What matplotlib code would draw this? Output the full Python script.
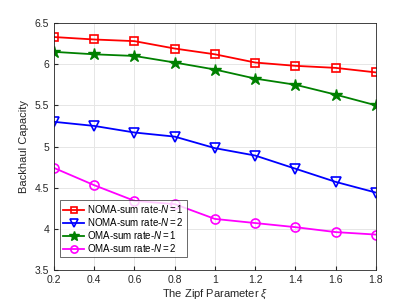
import numpy as np
import matplotlib
matplotlib.use("Agg")
import matplotlib.pyplot as plt

plt.rcParams['font.family'] = ['Liberation Sans', 'DejaVu Sans']
plt.rcParams['mathtext.fontset'] = 'custom'
plt.rcParams['mathtext.it'] = 'Liberation Sans:italic'
plt.rcParams['mathtext.rm'] = 'Liberation Sans'

# data
xi = [0.2, 0.4, 0.6, 0.8, 1.0, 1.2, 1.4, 1.6, 1.8]
noma_n1 = [6.33, 6.30, 6.28, 6.19, 6.12, 6.02, 5.98, 5.955, 5.90]
noma_n2 = [5.30, 5.25, 5.17, 5.12, 4.98, 4.89, 4.73, 4.57, 4.44]
oma_n1 = [6.15, 6.12, 6.10, 6.02, 5.935, 5.825, 5.75, 5.63, 5.50]
oma_n2 = [4.74, 4.53, 4.34, 4.30, 4.12, 4.07, 4.02, 3.96, 3.93]

fig = plt.figure(figsize=(4.15, 3.03), dpi=100)
ax = fig.add_axes([0.130, 0.109, 0.776, 0.815])

ax.plot(xi, noma_n1, color='red', marker='s', markersize=6, markerfacecolor='none',
        markeredgewidth=1.2, linewidth=1.3, label=r'NOMA-sum rate-$\mathit{N{=}1}$')
ax.plot(xi, noma_n2, color='blue', marker='v', markersize=7, markerfacecolor='none',
        markeredgewidth=1.2, linewidth=1.3, label=r'NOMA-sum rate-$\mathit{N{=}2}$')
ax.plot(xi, oma_n1, color='green', marker='*', markersize=9,
        linewidth=1.3, label=r'OMA-sum rate-$\mathit{N{=}1}$')
ax.plot(xi, oma_n2, color='magenta', marker='o', markersize=6.5, markerfacecolor='none',
        markeredgewidth=1.2, linewidth=1.3, label=r'OMA-sum rate-$\mathit{N{=}2}$')

ax.set_xlim(0.2, 1.8)
ax.set_ylim(3.5, 6.5)
ax.set_xticks(xi)
ax.set_xticklabels(['0.2', '0.4', '0.6', '0.8', '1', '1.2', '1.4', '1.6', '1.8'])
ax.set_yticks([3.5, 4, 4.5, 5, 5.5, 6, 6.5])
ax.set_yticklabels(['3.5', '4', '4.5', '5', '5.5', '6', '6.5'])
ax.tick_params(labelsize=7.5, direction='in', length=3, color='#262626', labelcolor='#262626')
ax.grid(True, color='#e6e6e6', linewidth=0.7)
for s in ax.spines.values():
    s.set_color('#262626')
    s.set_linewidth(0.6)

ax.set_xlabel(r'The Zipf Parameter $\xi$', fontsize=8, color='#262626', labelpad=2)
ax.set_ylabel('Backhaul Capacity', fontsize=8, color='#262626', labelpad=4)

leg = ax.legend(loc='lower left', fontsize=7, frameon=True, fancybox=False,
                edgecolor='#262626', borderpad=0.3, handlelength=2.2, labelspacing=0.1,
                handletextpad=0.3, markerscale=0.8, borderaxespad=0.3,
                bbox_to_anchor=(0.01, 0.04))
leg.get_frame().set_linewidth(0.6)

fig.savefig('out.png', dpi=100)
